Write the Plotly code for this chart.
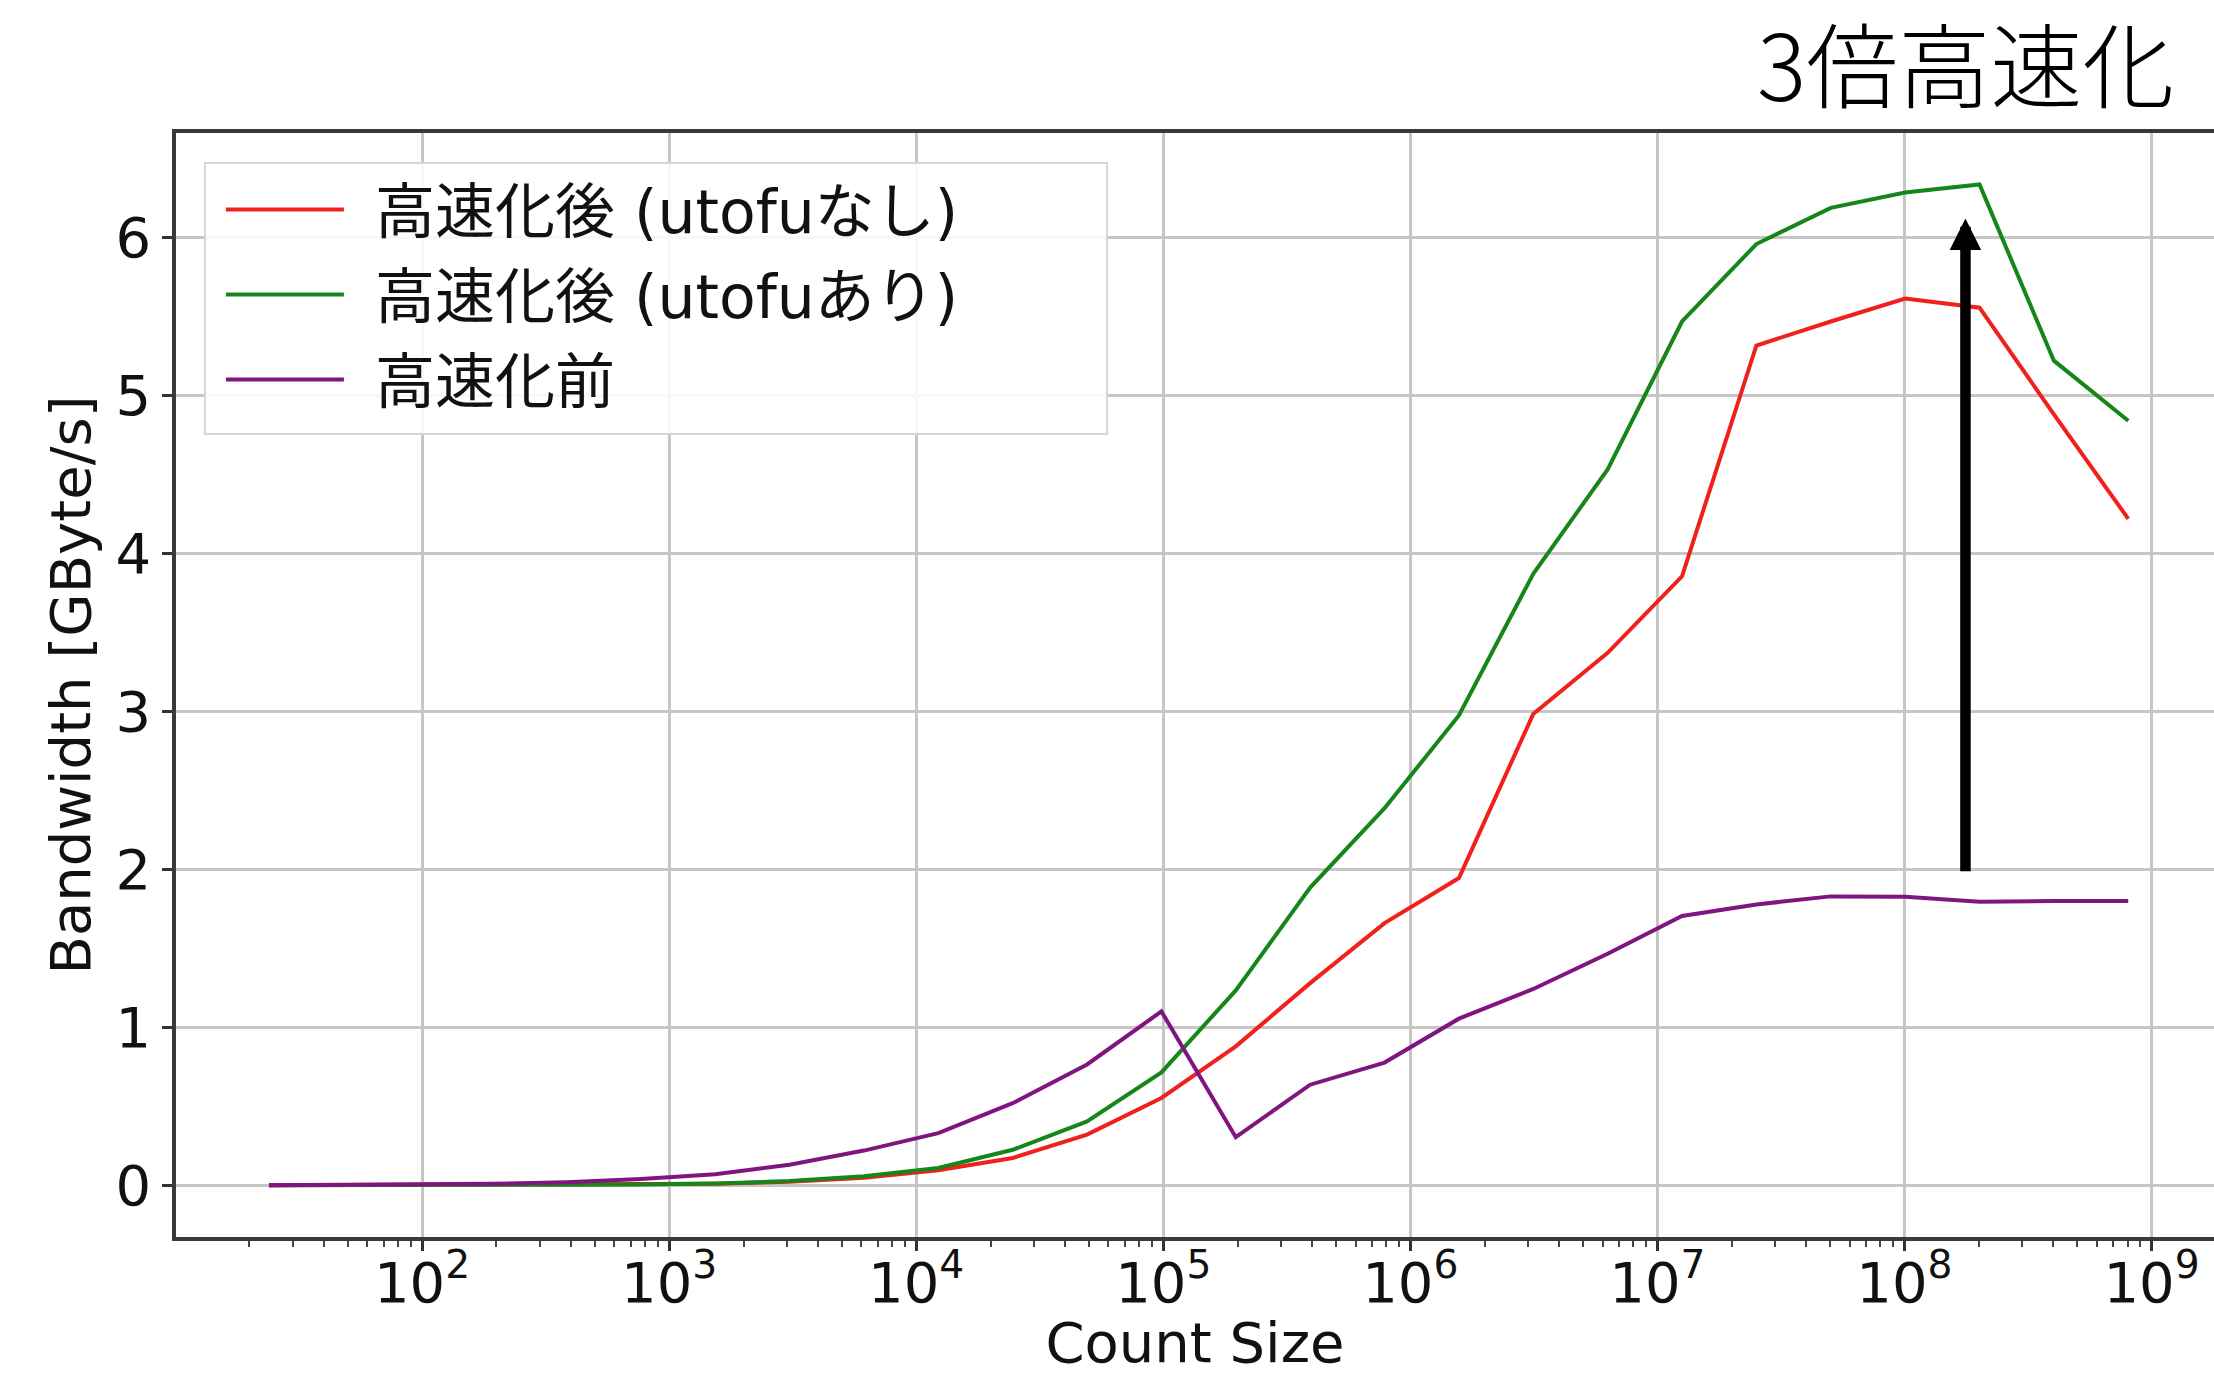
import math
import plotly.graph_objects as go

# Message count sizes (elements) used in the benchmark
count_size = [24, 48, 96, 192, 384, 768, 1536, 3072, 6144, 12288, 24576, 49152,
              98304, 196608, 393216, 786432, 1572864, 3145728, 6291456, 12582912,
              25165824, 50331648, 100663296, 201326592, 402653184, 805306368]

# Measured bandwidth [GByte/s]
bw_opt_no_utofu = [0.000, 0.001, 0.001, 0.002, 0.003, 0.005, 0.010, 0.022, 0.048, 0.095,
                   0.173, 0.321, 0.553, 0.880, 1.280, 1.660, 1.945, 2.984, 3.371, 3.855,
                   5.316, 5.468, 5.613, 5.555, 4.880, 4.219]
bw_opt_utofu = [0.000, 0.001, 0.001, 0.002, 0.003, 0.006, 0.012, 0.027, 0.057, 0.110,
                0.225, 0.405, 0.715, 1.234, 1.885, 2.387, 2.974, 3.871, 4.532, 5.468,
                5.958, 6.187, 6.284, 6.335, 5.220, 4.840]
bw_before = [0.000, 0.002, 0.005, 0.010, 0.020, 0.040, 0.070, 0.130, 0.220, 0.330,
             0.520, 0.765, 1.101, 0.305, 0.637, 0.777, 1.055, 1.243, 1.466, 1.705,
             1.778, 1.829, 1.826, 1.795, 1.800, 1.800]

series_names = ["高速化後 (utofuなし)", "高速化後 (utofuあり)", "高速化前"]
series_colors = ["#f0201c", "#17861a", "#80157f"]

x_tick_vals = [1e2, 1e3, 1e4, 1e5, 1e6, 1e7, 1e8, 1e9]
x_tick_text = ["10<sup>2</sup>", "10<sup>3</sup>", "10<sup>4</sup>", "10<sup>5</sup>",
               "10<sup>6</sup>", "10<sup>7</sup>", "10<sup>8</sup>", "10<sup>9</sup>"]
y_tick_vals = [0, 1, 2, 3, 4, 5, 6]

# Speed-up arrow: drawn at this count size, between these bandwidth levels
arrow_x = 1.766e8
arrow_from = 1.978
arrow_to = 6.12
speedup_label = "3倍高速化"

# log-axis minor ticks at 2..9 x 10^k
minor_vals = [m * 10 ** k for k in range(1, 10) for m in range(2, 10)]

TICK_FONT = dict(family="DejaVu Sans", size=56, color="#111111")

fig = go.Figure()
for name, color, ys in zip(series_names, series_colors,
                           [bw_opt_no_utofu, bw_opt_utofu, bw_before]):
    fig.add_trace(go.Scatter(
        x=count_size, y=ys, mode="lines", name=name, legendgroup=name,
        line=dict(color=color, width=4),
    ))

# annotation positions on a log axis are given in log10 units
fig.add_annotation(
    x=math.log10(arrow_x), y=arrow_to, ax=math.log10(arrow_x), ay=arrow_from,
    xref="x", yref="y", axref="x", ayref="y",
    text="", showarrow=True, arrowhead=2, arrowsize=0.6, arrowwidth=10.5,
    arrowcolor="#000000",
)
fig.add_annotation(
    x=0.9815, y=1.066, xref="paper", yref="paper", xanchor="right", yanchor="middle",
    text=speedup_label, showarrow=False, height=110, valign="middle",
    font=dict(family="Noto Sans CJK JP", size=92, color="#000000", weight=300),
)

fig.update_layout(
    width=2214, height=1375,
    margin=dict(l=176, r=0, t=133, b=138),
    paper_bgcolor="white", plot_bgcolor="white",
    legend=dict(
        x=0.0137, y=0.9737, xanchor="left", yanchor="top",
        bgcolor="rgba(255,255,255,0.85)", bordercolor="#d6d6d6", borderwidth=2,
        font=dict(family="DejaVu Sans, Noto Sans CJK JP", size=60, color="#111111"),
        itemwidth=159, tracegroupgap=4,
    ),
    showlegend=True,
)

fig.update_xaxes(
    type="log", range=[1.004, 9.253], automargin=False,
    tickmode="array", tickvals=x_tick_vals, ticktext=x_tick_text,
    tickfont=TICK_FONT, ticks="outside", ticklen=10, tickwidth=3, tickcolor="#333333",
    ticklabelstandoff=-16,
    showgrid=True, gridcolor="#c6c6c6", gridwidth=2.5,
    showline=True, linecolor="#3a3a3a", linewidth=3.5, mirror=True,
    zeroline=False,
    minor=dict(tickmode="array", tickvals=minor_vals, ticks="outside", ticklen=6,
               tickwidth=2, tickcolor="#444444", showgrid=False),
    title=dict(text="Count Size", font=TICK_FONT, standoff=51),
)
fig.update_yaxes(
    range=[-0.327, 6.661], automargin=False,
    tickmode="array", tickvals=y_tick_vals,
    tickfont=TICK_FONT, ticks="outside", ticklen=10, tickwidth=3, tickcolor="#333333",
    ticklabelstandoff=0,
    showgrid=True, gridcolor="#c6c6c6", gridwidth=2.5,
    showline=True, linecolor="#3a3a3a", linewidth=3.5, mirror=False,
    zeroline=False,
    title=dict(text="Bandwidth [GByte/s]", font=TICK_FONT, standoff=8),
)

# Legend handles: fixed-length lines with a gap before the labels; wider frame
legend_js = """
var gd = document.getElementById('{plot_id}');
gd.querySelectorAll('.legend .legendlines path.js-line').forEach(function (p) {
  p.setAttribute('d', 'M20,0h118');
});
gd.querySelectorAll('.legend rect.bg').forEach(function (r) {
  r.setAttribute('width', 902);
  r.setAttribute('height', 271);
});
"""

fig.write_html("out.html", post_script=legend_js)
